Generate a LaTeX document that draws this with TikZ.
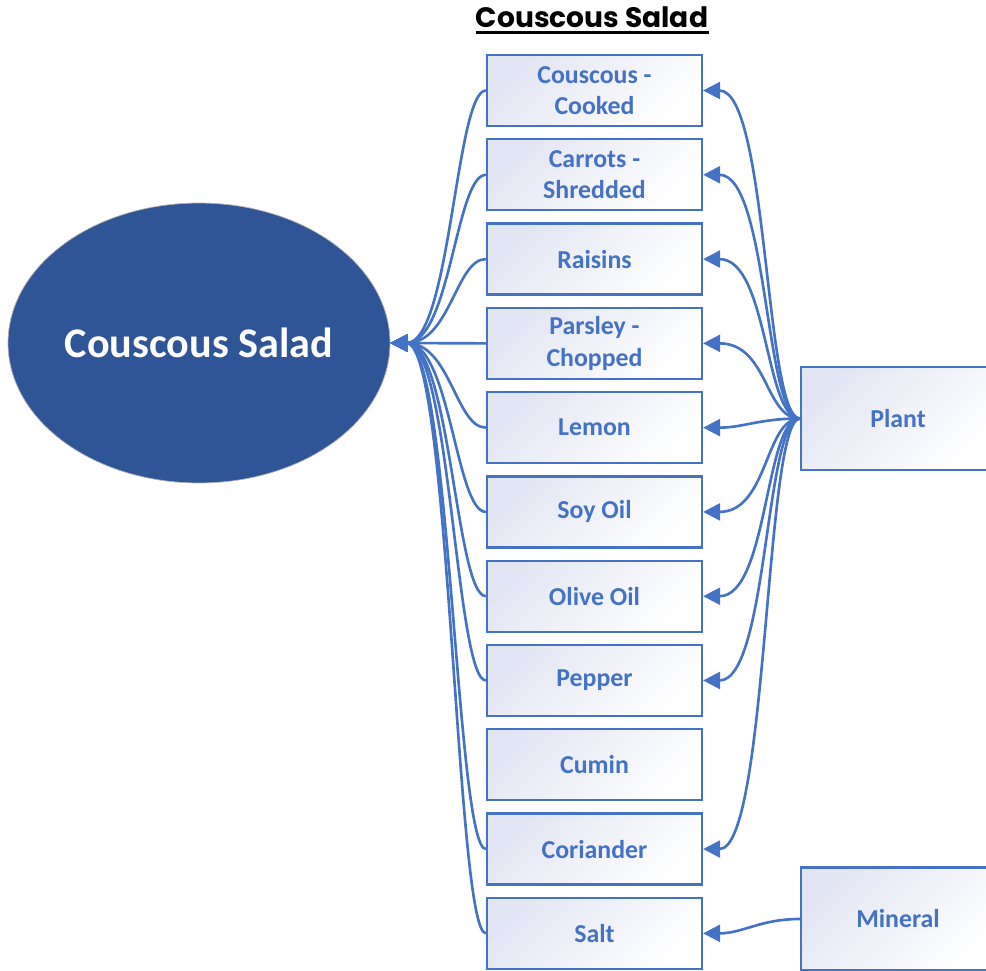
\documentclass[tikz,border=0pt]{standalone}
\usepackage{fontspec}
\setmainfont{Carlito}
\newfontfamily\titlefont{Poppins}
\usetikzlibrary{shapes.geometric,arrows.meta}
\definecolor{itemblue}{RGB}{68,114,196}
\definecolor{saladblue}{RGB}{47,85,151}
\definecolor{boxtint}{RGB}{226,229,243}
\begin{document}
\begin{tikzpicture}[x=0.02cm, y=-0.02cm, node distance=16.86mm,
  item/.style={rectangle, draw=itemblue, line width=1.3pt, top color=boxtint, bottom color=white, shading angle=45,
    minimum width=4.3cm, minimum height=1.42cm, inner sep=1pt, align=center, text=itemblue,
    font=\bfseries\fontsize{14.7}{18}\selectfont},
  source/.style={item, minimum width=3.88cm, minimum height=2.06cm},
  link/.style={draw=itemblue, line width=1.5pt, -{Triangle[length=0.34cm, width=0.34cm]}}]
  \useasboundingbox (0,0) rectangle (986,970);
  \node[inner sep=0pt, font=\titlefont\bfseries\fontsize{16}{19}\selectfont, anchor=base] (title) at (592,28) {Couscous Salad};
  \draw[line width=1.7pt] ([yshift=-2.8pt]title.base west) -- ([yshift=-2.8pt]title.base east);
  \node[ellipse, draw=black!30, line width=0.4pt, fill=saladblue, minimum width=7.64cm, minimum height=5.6cm, inner sep=0pt, text=white,
    font=\bfseries\fontsize{24}{28}\selectfont] (salad) at (199,343) {Couscous Salad};
  \node[item] (cooked) at (594.5,90.5) {Couscous -\\Cooked};
  \node[item, below of=cooked] (carrots) {Carrots -\\Shredded};
  \node[item, below of=carrots] (raisins) {Raisins};
  \node[item, below of=raisins] (parsley) {Parsley -\\Chopped};
  \node[item, below of=parsley] (lemon) {Lemon};
  \node[item, below of=lemon] (soyoil) {Soy Oil};
  \node[item, below of=soyoil] (oliveoil) {Olive Oil};
  \node[item, below of=oliveoil] (pepper) {Pepper};
  \node[item, below of=pepper] (cumin) {Cumin};
  \node[item, below of=cumin] (coriander) {Coriander};
  \node[item, below of=coriander] (salt) {Salt};
  \node[source] (plant) at (898,418.5) {Plant};
  \node[source] (mineral) at (898,919) {Mineral};
  \draw[link] (cooked.west) .. controls +(-30,0) and +(60,0) .. (salad.east);
  \draw[link] (carrots.west) .. controls +(-30,0) and +(60,0) .. (salad.east);
  \draw[link] (raisins.west) .. controls +(-30,0) and +(60,0) .. (salad.east);
  \draw[link] (parsley.west) -- (salad.east);
  \draw[link] (lemon.west) .. controls +(-30,0) and +(60,0) .. (salad.east);
  \draw[link] (soyoil.west) .. controls +(-30,0) and +(60,0) .. (salad.east);
  \draw[link] (oliveoil.west) .. controls +(-30,0) and +(60,0) .. (salad.east);
  \draw[link] (pepper.west) .. controls +(-30,0) and +(60,0) .. (salad.east);
  \draw[link] (coriander.west) .. controls +(-30,0) and +(60,0) .. (salad.east);
  \draw[link] (salt.west) .. controls +(-30,0) and +(60,0) .. (salad.east);
  \draw[link] (plant.west) .. controls +(-35,0) and +(65,0) .. (cooked.east);
  \draw[link] (plant.west) .. controls +(-35,0) and +(65,0) .. (carrots.east);
  \draw[link] (plant.west) .. controls +(-35,0) and +(65,0) .. (raisins.east);
  \draw[link] (plant.west) .. controls +(-35,0) and +(65,0) .. (parsley.east);
  \draw[link] (plant.west) .. controls +(-40,0) and +(40,0) .. (lemon.east);
  \draw[link] (plant.west) .. controls +(-35,0) and +(65,0) .. (soyoil.east);
  \draw[link] (plant.west) .. controls +(-35,0) and +(65,0) .. (oliveoil.east);
  \draw[link] (plant.west) .. controls +(-35,0) and +(65,0) .. (pepper.east);
  \draw[link] (plant.west) .. controls +(-35,0) and +(65,0) .. (coriander.east);
  \draw[link] (mineral.west) .. controls +(-40,0) and +(40,0) .. (salt.east);
\end{tikzpicture}
\end{document}
